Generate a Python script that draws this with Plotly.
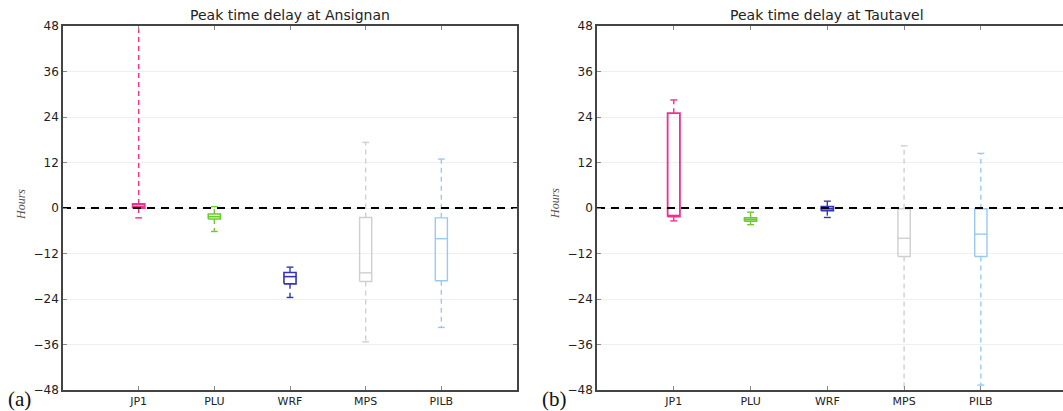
import plotly.graph_objects as go

# ---------------- data ----------------
categories = ["JP1", "PLU", "WRF", "MPS", "PILB"]
colors = ["#f0308c", "#6ccc2c", "#3434b4", "#cfcfcf", "#98caf0"]
box_line_widths = [1.8, 1.6, 1.6, 1.4, 1.4]

# Ansignan (a)
ans_low = [-2.6, -6.2, -23.6, -35.3, -31.5]
ans_q1 = [0.0, -2.9, -20.0, -19.4, -19.2]
ans_med = [0.4, -2.3, -18.1, -17.1, -8.1]
ans_q3 = [1.05, -1.6, -17.0, -2.5, -2.6]
ans_high = [50.0, 0.35, -15.6, 17.3, 12.9]

# Tautavel (b)
tau_low = [-3.4, -4.4, -2.5, -50.0, -46.7]
tau_q1 = [-2.3, -3.5, -0.7, -12.8, -12.8]
tau_med = [-2.0, -3.1, -0.2, -8.0, -6.9]
tau_q3 = [25.0, -2.6, 0.35, -0.2, -0.2]
tau_high = [28.5, -1.1, 1.8, 16.4, 14.4]

titles = ["Peak time delay at Ansignan", "Peak time delay at Tautavel"]
panel_tags = ["(a)", "(b)"]
y_ticks = [48, 36, 24, 12, 0, -12, -24, -36, -48]

W, H = 1063, 411
fig = go.Figure()

BOX_HALF = 0.08
CAP_HALF = 0.045

def add_panel(idx, low, q1, med, q3, high):
    xa = "x" if idx == 0 else "x2"
    ya = "y" if idx == 0 else "y2"
    for i, cat in enumerate(categories):
        c = i + 1
        col = colors[i]
        lw = box_line_widths[i]
        # whiskers (dashed)
        fig.add_trace(go.Scatter(
            x=[c, c, None, c, c], y=[q3[i], high[i], None, q1[i], low[i]],
            mode="lines", line=dict(color=col, width=1.4, dash="5px,4px"),
            xaxis=xa, yaxis=ya, showlegend=False, hoverinfo="skip"))
        # caps
        fig.add_trace(go.Scatter(
            x=[c - CAP_HALF, c + CAP_HALF, None, c - CAP_HALF, c + CAP_HALF],
            y=[high[i], high[i], None, low[i], low[i]],
            mode="lines", line=dict(color=col, width=1.4),
            xaxis=xa, yaxis=ya, showlegend=False, hoverinfo="skip"))
        # box
        fig.add_trace(go.Scatter(
            x=[c - BOX_HALF, c + BOX_HALF, c + BOX_HALF, c - BOX_HALF, c - BOX_HALF],
            y=[q1[i], q1[i], q3[i], q3[i], q1[i]],
            mode="lines", line=dict(color=col, width=lw),
            xaxis=xa, yaxis=ya, showlegend=False, name=cat))
        # median
        fig.add_trace(go.Scatter(
            x=[c - BOX_HALF, c + BOX_HALF], y=[med[i], med[i]],
            mode="lines", line=dict(color=col, width=lw),
            xaxis=xa, yaxis=ya, showlegend=False, hoverinfo="skip"))
    # zero reference line
    fig.add_trace(go.Scatter(
        x=[0, 7], y=[0, 0], mode="lines",
        line=dict(color="black", width=2.2, dash="8px,6px"),
        xaxis=xa, yaxis=ya, showlegend=False, hoverinfo="skip"))

add_panel(0, ans_low, ans_q1, ans_med, ans_q3, ans_high)
add_panel(1, tau_low, tau_q1, tau_med, tau_q3, tau_high)

x_font = dict(family="DejaVu Sans", size=11, color="#222222")
y_font = dict(family="DejaVu Sans", size=12, color="#222222")
spine = "#444444"

common_x = dict(
    tickmode="array", tickvals=[1, 2, 3, 4, 5], ticktext=categories,
    ticks="inside", ticklen=4, tickcolor="#888888",
    showline=True, linecolor=spine, linewidth=1.5,
    showgrid=False, zeroline=False, tickfont=x_font, fixedrange=True)
common_y = dict(
    range=[-48, 48], tickmode="array", tickvals=y_ticks,
    ticks="inside", ticklen=4, tickcolor="#888888",
    showline=True, linecolor=spine, linewidth=1.5,
    showgrid=True, gridcolor="#efefef", gridwidth=1,
    zeroline=False, tickfont=y_font, fixedrange=True)

x1d = [63 / W, 517 / W]
x2d = [597 / W, 1.0]

fig.update_layout(
    width=W, height=H,
    margin=dict(l=0, r=0, t=26, b=21),
    plot_bgcolor="white", paper_bgcolor="white",
    xaxis=dict(domain=x1d, range=[0, 6], mirror="allticks", **common_x),
    yaxis=dict(domain=[0, 1], mirror="allticks", anchor="x", **common_y),
    xaxis2=dict(domain=x2d, range=[0, 6.07], mirror="allticks", anchor="y2", **common_x),
    yaxis2=dict(domain=[0, 1], mirror=False, anchor="x2", **common_y),
)

title_centers = [290 / W, 827 / W]
annotations = []
for i, (d, t, tag) in enumerate(zip([x1d, x2d], titles, panel_tags)):
    annotations.append(dict(
        text=t, xref="paper", yref="paper", x=title_centers[i], y=1.0,
        xanchor="center", yanchor="bottom", yshift=1, showarrow=False,
        font=dict(family="DejaVu Sans", size=14, color="#222222")))
    annotations.append(dict(
        text="<i>Hours</i>", xref="paper", yref="paper",
        x=d[0] - 42 / W, y=0.5 + 4 / 364, textangle=-90,
        xanchor="center", yanchor="middle", showarrow=False,
        font=dict(family="Liberation Serif", size=12, color="#555555")))
    annotations.append(dict(
        text=tag, xref="paper", yref="paper",
        x=d[0] - 57 / W, y=-9 / 364,
        xanchor="left", yanchor="middle", showarrow=False,
        font=dict(family="Liberation Serif", size=21, color="#111111")))

fig.update_layout(annotations=annotations)

fig.write_html(
    "out.html",
    config={"displayModeBar": False},
    post_script="document.body.style.margin='0';document.body.style.overflow='hidden';",
)
